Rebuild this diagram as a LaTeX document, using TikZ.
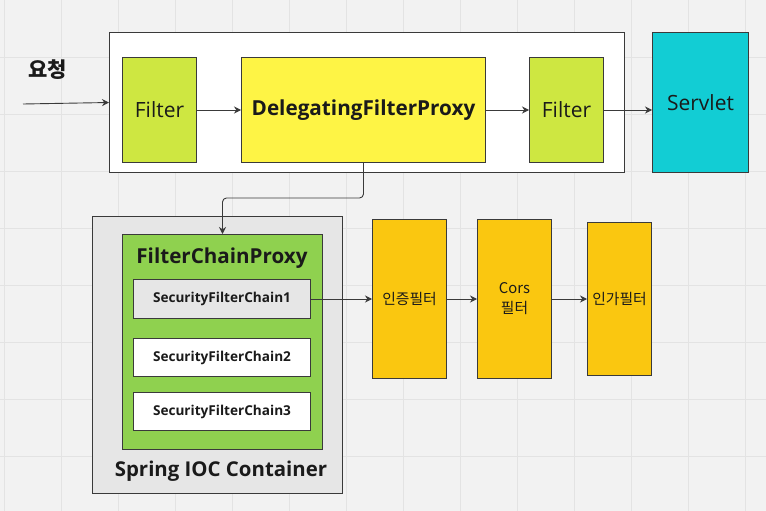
\documentclass[tikz,border=0pt]{standalone}
\usepackage{fontspec}
\setmainfont{Open Sans}
\newfontfamily\krfont{Noto Sans CJK KR}
\usetikzlibrary{arrows.meta}
\definecolor{bgcol}{HTML}{F2F2F2}
\definecolor{gridcol}{HTML}{E3E3E3}
\definecolor{edgecol}{HTML}{3A3A3A}
\definecolor{limecol}{HTML}{CEE741}
\definecolor{yellowcol}{HTML}{FEF445}
\definecolor{cyancol}{HTML}{12CDD4}
\definecolor{greencol}{HTML}{8FD14F}
\definecolor{orangecol}{HTML}{FAC710}
\definecolor{boxgray}{HTML}{E6E6E6}
\definecolor{textcol}{HTML}{1A1A1A}

\tikzset{
  box/.style={draw=edgecol,line width=1pt,anchor=north west,inner sep=0pt,text=textcol},
  arr/.style={-{Stealth[length=7pt,width=7pt]},draw=edgecol,line width=0.9pt},
  gridline/.style={draw=gridcol,line width=0.8pt}
}

\begin{document}
\begin{tikzpicture}[x=1pt,y=-1pt]
  \useasboundingbox (0,0) rectangle (766,511);
  \fill[bgcol] (0,0) rectangle (766,511);
  \foreach \i in {0,...,13} \draw[gridline] ({4+57*\i},0) -- ++(0,511);
  \foreach \j in {1,...,8} \draw[gridline] (0,{57*\j}) -- ++(766,0);

  % upper row
  \node[box,fill=white,minimum width=515pt,minimum height=140pt] (outer) at (109,32) {};
  \node[box,fill=limecol,minimum width=74pt,minimum height=105pt,font=\fontsize{21}{24}\selectfont] (f1) at (122,57) {Filter};
  \node[box,fill=yellowcol,minimum width=244pt,minimum height=105pt,font=\fontsize{20.7}{24}\selectfont\bfseries] (dfp) at (241,57) {DelegatingFilterProxy};
  \node[box,fill=limecol,minimum width=74pt,minimum height=105pt,font=\fontsize{21}{24}\selectfont] (f2) at (529,57) {Filter};
  \node[box,fill=cyancol,minimum width=96pt,minimum height=140pt,font=\fontsize{21}{24}\selectfont] (servlet) at (652,32) {Servlet};
  \node[font=\krfont\fontsize{21}{24}\selectfont\bfseries,text=textcol] (req) at (48,70) {요청};
  \coordinate (reqin) at (23,104);

  \draw[arr] (reqin) -- (outer.west);
  \draw[arr] (f1) -- (dfp);
  \draw[arr] (dfp) -- (f2);
  \draw[arr] (f2.east) -- (f2.east -| servlet.west);

  % spring container
  \node[box,fill=boxgray,minimum width=250pt,minimum height=277pt] (ioc) at (92,216) {};
  \node[box,fill=greencol,minimum width=200pt,minimum height=215pt] (fcp) at (122,234) {};
  \node[font=\fontsize{20.6}{24}\selectfont\bfseries,text=textcol] (fcptitle) at (222,258) {FilterChainProxy};
  \node[font=\fontsize{20.4}{24}\selectfont\bfseries,text=textcol] (ioctitle) at (221,471) {Spring IOC Container};
  \node[box,fill=boxgray,minimum width=177pt,minimum height=39pt,font=\fontsize{13.6}{15}\selectfont\bfseries] (sfc1) at (133,279) {SecurityFilterChain1};
  \node[box,fill=white,minimum width=177pt,minimum height=38pt,font=\fontsize{13.6}{15}\selectfont\bfseries] (sfc2) at (133,338) {SecurityFilterChain2};
  \node[box,fill=white,minimum width=177pt,minimum height=38pt,font=\fontsize{13.6}{15}\selectfont\bfseries] (sfc3) at (133,392) {SecurityFilterChain3};

  \draw[arr,rounded corners=4pt] (dfp.south) -- ++(0,35) -| (fcp.north);

  % filters
  \node[box,fill=orangecol,minimum width=74pt,minimum height=159pt,font=\krfont\fontsize{14.8}{17}\selectfont] (authn) at (372,219) {인증필터};
  \node[box,fill=orangecol,minimum width=74pt,minimum height=159pt,font=\krfont\fontsize{14.8}{20}\selectfont,align=center] (cors) at (477,219) {Cors\\필터};
  \node[box,fill=orangecol,minimum width=64pt,minimum height=153pt,font=\krfont\fontsize{14.8}{17}\selectfont] (authz) at (587,222) {인가필터};

  \draw[arr] (sfc1.east) -- (sfc1.east -| authn.west);
  \draw[arr] (authn.east |- sfc1.east) -- (cors.west |- sfc1.east);
  \draw[arr] (cors.east |- sfc1.east) -- (authz.west |- sfc1.east);
\end{tikzpicture}
\end{document}
